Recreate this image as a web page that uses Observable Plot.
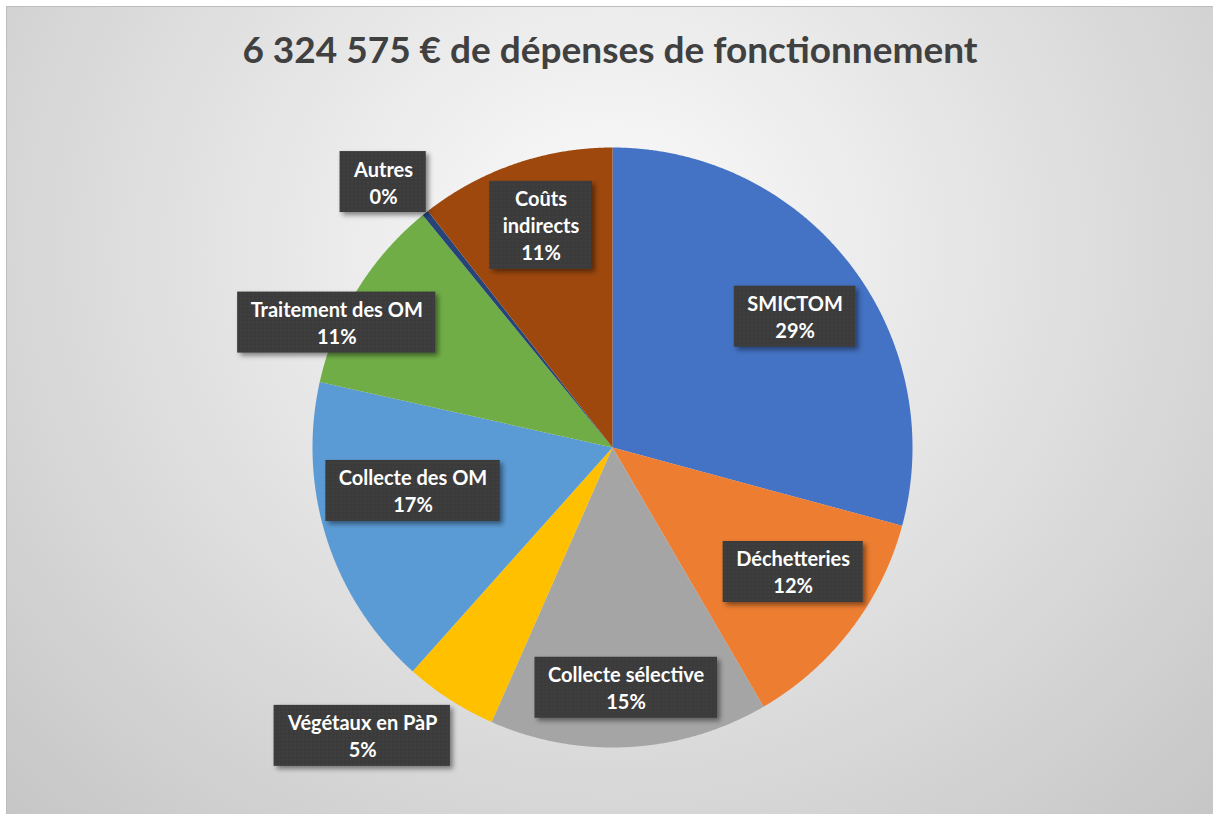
<!DOCTYPE html>
<html>
<head>
<meta charset="utf-8">
<script src="https://cdn.jsdelivr.net/npm/d3@7"></script>
<script src="https://cdn.jsdelivr.net/npm/@observablehq/plot@0.6"></script>
<style>
html, body { margin: 0; padding: 0; background: #ffffff; }
#frame {
  position: absolute; left: 6px; top: 6px; width: 1207px; height: 808px;
  box-sizing: border-box; border-top: 1px solid #bdbdbd; border-left: 1px solid #bdbdbd;
  background: radial-gradient(ellipse farthest-corner at 50% 30%, #fbfbfb 0%, #ececec 30%, #c6c6c6 100%);
  overflow: hidden;
}
#title {
  position: absolute; left: 0; top: 12px; width: 1206px; height: 60px; line-height: 60px;
  text-align: center; font-family: Lato, "Open Sans", sans-serif; font-weight: bold;
  font-size: 37px; color: #404040; white-space: nowrap;
}
#chart { position: absolute; left: 0; top: 100px; }
</style>
</head>
<body>
<div id="frame">
  <div id="title">6 324 575 € de dépenses de fonctionnement</div>
  <div id="chart"></div>
</div>
<script>
// ---- data ----
const categories = ["SMICTOM", "Déchetteries", "Collecte sélective", "Végétaux en PàP", "Collecte des OM", "Traitement des OM", "Autres", "Coûts indirects"];
const shares = [29.2, 12.4, 15.0, 5.0, 16.9, 10.6, 0.35, 10.55]; // % of 6 324 575 €
const labelNames = ["SMICTOM", "Déchetteries", "Collecte sélective", "Végétaux en PàP", "Collecte des OM", "Traitement des OM", "Autres", "Coûts\nindirects"];
// ---- styles / layout ----
const colors = ["#4472C4", "#ED7D31", "#A5A5A5", "#FFC000", "#5B9BD5", "#70AD47", "#264478", "#9E480E"];
const labelRadius = [0.75, 0.73, 0.80, 1.27, 0.68, 1.01, 1.17, 0.78];
const labelAngleShift = [1.7, -3, 0, 8.2, 5.7, -7.2, -2.1, 1.2];

const total = d3.sum(shares);
let cum = 0;
const slices = categories.map((c, i) => {
  const a0 = cum / total * 360;
  cum += shares[i];
  const a1 = cum / total * 360;
  return {category: c, a0, a1, color: colors[i], i};
});

function slicePoints(s) {
  const pts = [{x: 0, y: 0}];
  const n = Math.max(2, Math.ceil((s.a1 - s.a0) / 0.25));
  for (let k = 0; k <= n; k++) {
    const a = (s.a0 + (s.a1 - s.a0) * k / n) * Math.PI / 180;
    pts.push({x: Math.sin(a), y: Math.cos(a)});
  }
  pts.push({x: 0, y: 0});
  return pts;
}

const labels = slices.map(s => {
  const a = ((s.a0 + s.a1) / 2 + labelAngleShift[s.i]) * Math.PI / 180;
  const r = labelRadius[s.i];
  return {x: r * Math.sin(a), y: r * Math.cos(a), text: labelNames[s.i] + "\n" + Math.round(shares[s.i]) + "%"};
});

const W = 1206, H = 701, R = 300, cx = 605, cy = 340;
const plot = Plot.plot({
  width: W, height: H, margin: 0,
  x: {domain: [-cx / R, (W - cx) / R], axis: null},
  y: {domain: [-(H - cy) / R, cy / R], axis: null},
  style: {background: "transparent", overflow: "visible"},
  marks: [
    ...slices.map(s => Plot.line(slicePoints(s), {x: "x", y: "y", fill: s.color, stroke: "none", curve: "linear"})),
    Plot.text(labels, {x: "x", y: "y", text: "text", fill: "white", fontSize: 20, fontWeight: "bold",
      fontFamily: "Lato, 'Open Sans', sans-serif", lineHeight: 1.35, className: "lbl"})
  ]
});
document.getElementById("chart").appendChild(plot);

// label boxes behind the texts
const svg = d3.select(plot);
const defs = svg.insert("defs", ":first-child");
const pat = defs.append("pattern").attr("id", "dots").attr("width", 4).attr("height", 4).attr("patternUnits", "userSpaceOnUse");
pat.append("rect").attr("width", 4).attr("height", 4).attr("fill", "#3a3a3a");
pat.append("circle").attr("cx", 1).attr("cy", 1).attr("r", 0.7).attr("fill", "#4e4e4e");
const f = defs.append("filter").attr("id", "shadow").attr("x", "-20%").attr("y", "-20%").attr("width", "150%").attr("height", "150%");
f.append("feDropShadow").attr("dx", 3).attr("dy", 3).attr("stdDeviation", 2.5).attr("flood-color", "#000").attr("flood-opacity", 0.45);

const lblG = plot.querySelector("g.lbl") || Array.from(plot.querySelectorAll("g")).filter(g => g.querySelector("text")).pop();
const boxG = document.createElementNS("http://www.w3.org/2000/svg", "g");
lblG.parentNode.insertBefore(boxG, lblG);
lblG.querySelectorAll("text").forEach(t => {
  const b = t.getBBox();
  const ctm = t.getAttribute("transform");
  const rect = document.createElementNS("http://www.w3.org/2000/svg", "rect");
  rect.setAttribute("x", b.x - 13);
  rect.setAttribute("y", b.y - 5);
  rect.setAttribute("width", b.width + 26);
  rect.setAttribute("height", b.height + 10);
  rect.setAttribute("fill", "url(#dots)");
  rect.setAttribute("filter", "url(#shadow)");
  if (ctm) rect.setAttribute("transform", ctm);
  boxG.appendChild(rect);
});
</script>
</body>
</html>
